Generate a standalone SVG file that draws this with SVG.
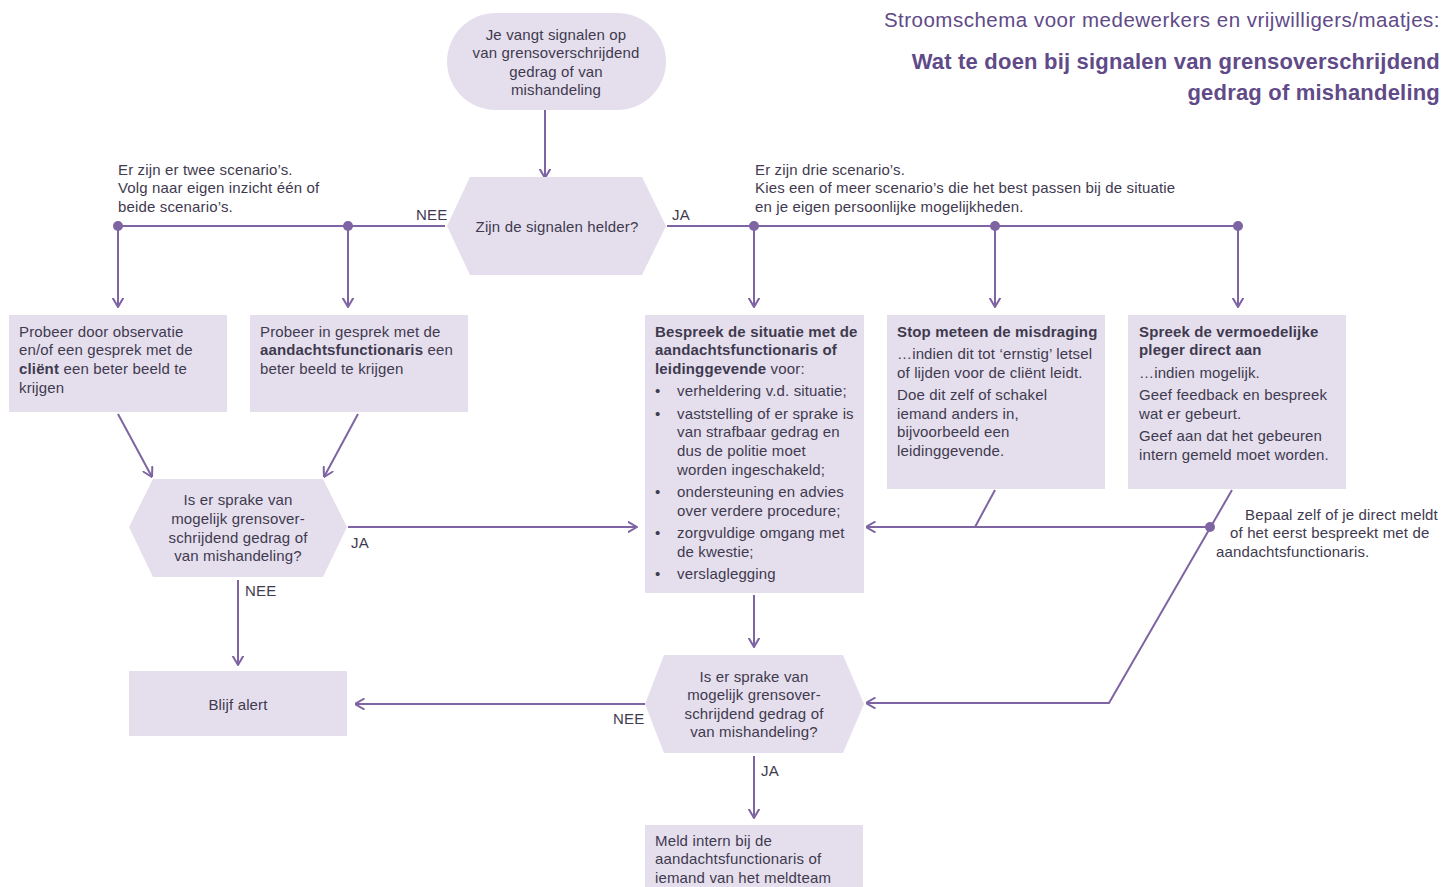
<svg xmlns="http://www.w3.org/2000/svg" width="1456" height="887" viewBox="0 0 1456 887">
<defs>
<style>
.n{fill:#e5dfed;stroke:none}
.t{font-family:"Liberation Sans",Arial,sans-serif;font-size:15px;letter-spacing:0.15px;fill:#3f3a4f}
.c{text-anchor:middle}
.b{font-weight:bold}
.l{fill:none;stroke:#7f64a3;stroke-width:2}
.d{fill:#7f64a3}
.h{font-family:"Liberation Sans",Arial,sans-serif;fill:#604a88;text-anchor:end}
</style>
<marker id="a" viewBox="0 0 10 12" refX="9.5" refY="6" markerWidth="10" markerHeight="12" markerUnits="userSpaceOnUse" orient="auto">
<path d="M0,0.5 L9.5,6 L0,11.5" fill="none" stroke="#7f64a3" stroke-width="2"/>
</marker>
</defs>
<rect width="1456" height="887" fill="#ffffff"/>

<g id="title">
<text class="h" x="1440" y="27" font-size="20.5" letter-spacing="0.5">Stroomschema voor medewerkers en vrijwilligers/maatjes:</text>
<text class="h b" x="1440" y="69" font-size="22" letter-spacing="0.2">Wat te doen bij signalen van grensoverschrijdend</text>
<text class="h b" x="1440" y="100" font-size="22" letter-spacing="0.2">gedrag of mishandeling</text>
</g>

<g id="connectors">
<line class="l" x1="545" y1="110" x2="545" y2="178" marker-end="url(#a)"/>
<line class="l" x1="118" y1="226" x2="445" y2="226"/>
<line class="l" x1="667" y1="226" x2="1238" y2="226"/>
<line class="l" x1="118" y1="226" x2="118" y2="307" marker-end="url(#a)"/>
<line class="l" x1="348" y1="226" x2="348" y2="307" marker-end="url(#a)"/>
<line class="l" x1="754" y1="226" x2="754" y2="307" marker-end="url(#a)"/>
<line class="l" x1="995" y1="226" x2="995" y2="307" marker-end="url(#a)"/>
<line class="l" x1="1238" y1="226" x2="1238" y2="307" marker-end="url(#a)"/>
<circle class="d" cx="118" cy="226" r="5"/>
<circle class="d" cx="348" cy="226" r="5"/>
<circle class="d" cx="754" cy="226" r="5"/>
<circle class="d" cx="995" cy="226" r="5"/>
<circle class="d" cx="1238" cy="226" r="5"/>
<line class="l" x1="118" y1="414" x2="152" y2="477" marker-end="url(#a)"/>
<line class="l" x1="358" y1="414" x2="324" y2="477" marker-end="url(#a)"/>
<line class="l" x1="348" y1="527" x2="637" y2="527" marker-end="url(#a)"/>
<line class="l" x1="238" y1="580" x2="238" y2="665" marker-end="url(#a)"/>
<line class="l" x1="645" y1="704" x2="355" y2="704" marker-end="url(#a)"/>
<line class="l" x1="754" y1="595" x2="754" y2="647" marker-end="url(#a)"/>
<line class="l" x1="754" y1="756" x2="754" y2="818" marker-end="url(#a)"/>
<line class="l" x1="995" y1="490" x2="975" y2="527"/>
<line class="l" x1="1210" y1="527" x2="866" y2="527" marker-end="url(#a)"/>
<polyline class="l" points="1232,490 1109,703 866,703" marker-end="url(#a)"/>
<circle class="d" cx="1210" cy="527" r="5"/>
<text class="t" x="416" y="220">NEE</text>
<text class="t" x="672" y="220">JA</text>
<text class="t" x="351" y="548">JA</text>
<text class="t" x="245" y="596">NEE</text>
<text class="t" x="613" y="724">NEE</text>
<text class="t" x="761" y="776">JA</text>
<text class="t" x="118" y="175">Er zijn er twee scenario’s.</text>
<text class="t" x="118" y="193">Volg naar eigen inzicht één of</text>
<text class="t" x="118" y="212">beide scenario’s.</text>
<text class="t" x="755" y="175">Er zijn drie scenario’s.</text>
<text class="t" x="755" y="193">Kies een of meer scenario’s die het best passen bij de situatie</text>
<text class="t" x="755" y="212">en je eigen persoonlijke mogelijkheden.</text>
<text class="t" x="1245" y="520">Bepaal zelf of je direct meldt</text>
<text class="t" x="1230" y="538">of het eerst bespreekt met de</text>
<text class="t" x="1216" y="557">aandachtsfunctionaris.</text>
</g>

<g id="start">
<rect class="n" x="447" y="13" width="219" height="97" rx="48.5"/>
<text class="t c" x="556" y="40">Je vangt signalen op</text>
<text class="t c" x="556" y="58">van grensoverschrijdend</text>
<text class="t c" x="556" y="77">gedrag of van</text>
<text class="t c" x="556" y="95">mishandeling</text>
</g>

<g id="q1">
<polygon class="n" points="470,177 642,177 666,226 642,275 470,275 447,226"/>
<text class="t c" x="557" y="232">Zijn de signalen helder?</text>
</g>

<g id="boxA">
<rect class="n" x="9" y="315" width="218" height="97"/>
<text class="t" x="19" y="337">Probeer door observatie</text>
<text class="t" x="19" y="355">en/of een gesprek met de</text>
<text class="t" x="19" y="374"><tspan class="b">cliënt</tspan> een beter beeld te</text>
<text class="t" x="19" y="393">krijgen</text>
</g>

<g id="boxB">
<rect class="n" x="250" y="315" width="218" height="97"/>
<text class="t" x="260" y="337">Probeer in gesprek met de</text>
<text class="t" x="260" y="355"><tspan class="b">aandachtsfunctionaris</tspan> een</text>
<text class="t" x="260" y="374">beter beeld te krijgen</text>
</g>

<g id="boxC">
<rect class="n" x="645" y="315" width="219" height="278"/>
<text class="t b" x="655" y="337">Bespreek de situatie met de</text>
<text class="t b" x="655" y="355">aandachtsfunctionaris of</text>
<text class="t" x="655" y="374"><tspan class="b">leidinggevende</tspan> voor:</text>
<text class="t" x="655" y="396">•</text>
<text class="t" x="677" y="396">verheldering v.d. situatie;</text>
<text class="t" x="655" y="419">•</text>
<text class="t" x="677" y="419">vaststelling of er sprake is</text>
<text class="t" x="677" y="437">van strafbaar gedrag en</text>
<text class="t" x="677" y="456">dus de politie moet</text>
<text class="t" x="677" y="475">worden ingeschakeld;</text>
<text class="t" x="655" y="497">•</text>
<text class="t" x="677" y="497">ondersteuning en advies</text>
<text class="t" x="677" y="516">over verdere procedure;</text>
<text class="t" x="655" y="538">•</text>
<text class="t" x="677" y="538">zorgvuldige omgang met</text>
<text class="t" x="677" y="557">de kwestie;</text>
<text class="t" x="655" y="579">•</text>
<text class="t" x="677" y="579">verslaglegging</text>
</g>

<g id="boxD">
<rect class="n" x="887" y="315" width="218" height="174"/>
<text class="t b" x="897" y="337">Stop meteen de misdraging</text>
<text class="t" x="897" y="359">…indien dit tot ‘ernstig’ letsel</text>
<text class="t" x="897" y="378">of lijden voor de cliënt leidt.</text>
<text class="t" x="897" y="400">Doe dit zelf of schakel</text>
<text class="t" x="897" y="419">iemand anders in,</text>
<text class="t" x="897" y="437">bijvoorbeeld een</text>
<text class="t" x="897" y="456">leidinggevende.</text>
</g>

<g id="boxE">
<rect class="n" x="1128" y="315" width="218" height="174"/>
<text class="t b" x="1139" y="337">Spreek de vermoedelijke</text>
<text class="t b" x="1139" y="355">pleger direct aan</text>
<text class="t" x="1139" y="378">…indien mogelijk.</text>
<text class="t" x="1139" y="400">Geef feedback en bespreek</text>
<text class="t" x="1139" y="419">wat er gebeurt.</text>
<text class="t" x="1139" y="441">Geef aan dat het gebeuren</text>
<text class="t" x="1139" y="460">intern gemeld moet worden.</text>
</g>

<g id="q2">
<polygon class="n" points="153,479 323,479 347,527 323,577 153,577 129,527"/>
<text class="t c" x="238" y="505">Is er sprake van</text>
<text class="t c" x="238" y="524">mogelijk grensover-</text>
<text class="t c" x="238" y="543">schrijdend gedrag of</text>
<text class="t c" x="238" y="561">van mishandeling?</text>
</g>

<g id="alert">
<rect class="n" x="129" y="671" width="218" height="65"/>
<text class="t c" x="238" y="710">Blijf alert</text>
</g>

<g id="q3">
<polygon class="n" points="664,655 843,655 864,704 843,753 664,753 645,704"/>
<text class="t c" x="754" y="682">Is er sprake van</text>
<text class="t c" x="754" y="700">mogelijk grensover-</text>
<text class="t c" x="754" y="719">schrijdend gedrag of</text>
<text class="t c" x="754" y="737">van mishandeling?</text>
</g>

<g id="meld">
<rect class="n" x="645" y="825" width="218" height="70"/>
<text class="t" x="655" y="846">Meld intern bij de</text>
<text class="t" x="655" y="864">aandachtsfunctionaris of</text>
<text class="t" x="655" y="883">iemand van het meldteam</text>
</g>
</svg>
